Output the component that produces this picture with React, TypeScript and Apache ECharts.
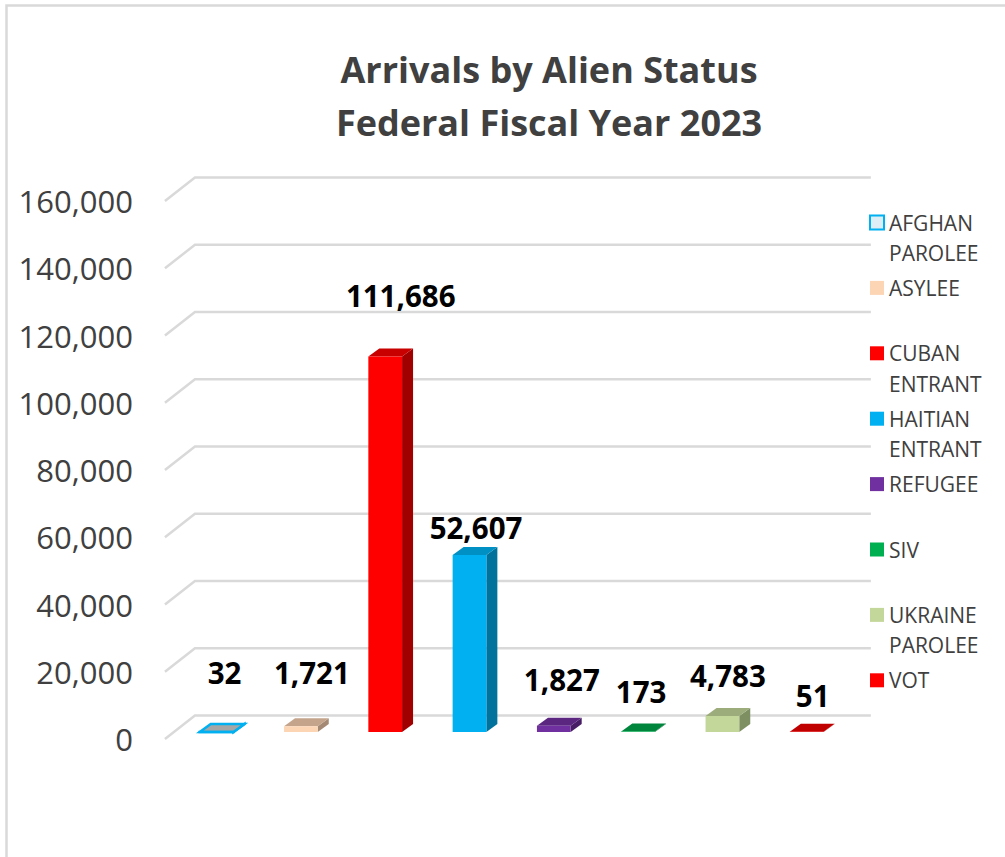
import React, { useEffect, useRef } from 'react';
import * as echarts from 'echarts';

// ---- data ----
const categories = [
  'AFGHAN PAROLEE',
  'ASYLEE',
  'CUBAN ENTRANT',
  'HAITIAN ENTRANT',
  'REFUGEE',
  'SIV',
  'UKRAINE PAROLEE',
  'VOT',
];
const arrivals = [32, 1721, 111686, 52607, 1827, 173, 4783, 51];
const yTicks = [0, 20000, 40000, 60000, 80000, 100000, 120000, 140000, 160000];
const titleLines = ['Arrivals by Alien Status', 'Federal Fiscal Year 2023'];

// ---- styles / layout ----
const FONT = "'Open Sans', 'Noto Sans', sans-serif";
const faceColors = [
  { front: '#dbeef4', top: '#a6a6a6', side: '#8c8c8c', stroke: '#00b0f0' },
  { front: '#fcd5b5', top: '#c4a58c', side: '#a48a75' },
  { front: '#ff0000', top: '#c80000', side: '#a00000' },
  { front: '#00b0f0', top: '#0090c4', side: '#00729c' },
  { front: '#7030a0', top: '#5a2680', side: '#471e66' },
  { front: '#00b050', top: '#00853c', side: '#006a30' },
  { front: '#c4d79b', top: '#9cad7b', side: '#7e8f62' },
  { front: '#ff0000', top: '#c00000', side: '#a00000' },
];
const legendIcon = [
  { color: '#ddeef6', borderColor: '#00b0f0', borderWidth: 2 },
  { color: '#fcd5b5' },
  { color: '#ff0000' },
  { color: '#00b0f0' },
  { color: '#7030a0' },
  { color: '#00b050' },
  { color: '#c4d79b' },
  { color: '#ff0000' },
];
// label offsets relative to the bar's top (dx, lift)
const labelNudge = [
  [8, 59.5], [11, 54], [15.5, 60.5], [6.5, 28], [8, 46], [3, 40], [5.5, 40], [6, 36],
];
const DX = 11;
const DY = -8;
const BAR_LIFT = 7;
const GRID_DX = 30;
const GRID_DY = -23.5;

const fmt = (v: number) => Number(v).toLocaleString('en-US');

function buildOption() {
  const gridSeries = {
    type: 'custom',
    name: '__grid',
    z: 1,
    silent: true,
    encode: { x: 0, y: 1 },
    data: yTicks.map((v) => [0, v]),
    renderItem: (params: any, api: any) => {
      const cs = params.coordSys;
      const p = api.coord([0, api.value(1)]);
      const x0 = cs.x - 9.5;
      const y = p[1];
      return {
        type: 'polyline',
        shape: {
          points: [
            [x0, y],
            [x0 + GRID_DX, y + GRID_DY],
            [cs.x + cs.width + 22, y + GRID_DY],
          ],
        },
        style: { stroke: '#d9d9d9', lineWidth: 2.5, fill: null },
      };
    },
  };

  const barSeries = categories.map((name, i) => ({
    type: 'custom',
    name,
    z: 2,
    itemStyle: { color: legendIcon[i].color },
    encode: { x: 0, y: 1 },
    data: [[i, arrivals[i]]],
    renderItem: (params: any, api: any) => {
      const idx = api.value(0);
      const v = api.value(1);
      const base = api.coord([idx, 0]);
      const top = api.coord([idx, v]);
      const w = api.size([1, 0])[0] * 0.4;
      const cx = base[0];
      const xL = cx - w / 2;
      const xR = cx + w / 2;
      const y0 = base[1] - BAR_LIFT;
      const yT = top[1] - BAR_LIFT;
      const c: any = faceColors[i];
      const stroke = c.stroke || 'none';
      const lw = c.stroke ? 2.5 : 0;
      return {
        type: 'group',
        children: [
          {
            type: 'polygon',
            shape: { points: [[xR, yT], [xR + DX, yT + DY], [xR + DX, y0 + DY], [xR, y0]] },
            style: { fill: c.side, stroke, lineWidth: lw },
          },
          {
            type: 'polygon',
            shape: { points: [[xL, yT], [xR, yT], [xR + DX, yT + DY], [xL + DX, yT + DY]] },
            style: { fill: c.top, stroke, lineWidth: lw },
          },
          {
            type: 'rect',
            shape: { x: xL, y: yT, width: w, height: Math.max(0, y0 - yT) },
            style: { fill: c.front, stroke, lineWidth: lw },
          },
          {
            type: 'text',
            x: cx + labelNudge[i][0],
            y: yT - labelNudge[i][1],
            style: {
              text: fmt(v),
              fontFamily: FONT,
              fontSize: 29.5,
              fontWeight: 'bold',
              fill: '#000000',
              align: 'center',
              verticalAlign: 'middle',
            },
          },
        ],
      };
    },
  }));

  return {
    animation: false,
    backgroundColor: '#ffffff',
    title: {
      text: titleLines.join('\n'),
      left: 549,
      top: 43,
      padding: 0,
      textAlign: 'center',
      textStyle: {
        fontFamily: FONT,
        fontSize: 36,
        fontWeight: 'bold',
        color: '#404040',
        lineHeight: 53,
      },
    },
    legend: {
      orient: 'vertical',
      left: 869,
      top: 176.75,
      padding: 0,
      itemWidth: 14,
      itemHeight: 14,
      itemGap: -26.1,
      icon: 'rect',
      selectedMode: false,
      textStyle: { fontFamily: FONT, fontSize: 21, color: '#404040', lineHeight: 30.5 },
      formatter: (name: string) => {
        const parts = name.split(' ');
        return '\n' + parts[0] + '\n' + (parts[1] || '');
      },
      data: categories.map((name, i) => ({ name, itemStyle: legendIcon[i] })),
    },
    grid: { left: 174.45, right: 156.15, top: 201, bottom: 118, containLabel: false },
    xAxis: {
      type: 'category',
      data: categories,
      boundaryGap: true,
      axisLine: { show: false },
      axisTick: { show: false },
      axisLabel: { show: false },
      splitLine: { show: false },
    },
    yAxis: {
      type: 'value',
      min: 0,
      max: 160000,
      interval: 20000,
      axisLine: { show: false },
      axisTick: { show: false },
      splitLine: { show: false },
      axisLabel: {
        margin: 41.5,
        fontFamily: FONT,
        fontSize: 31,
        color: '#404040',
        formatter: (v: number) => fmt(v),
      },
    },
    graphic: [
      {
        type: 'rect',
        silent: true,
        shape: { x: 6.5, y: 5.5, width: 1100, height: 1000 },
        style: { fill: 'none', stroke: '#d9d9d9', lineWidth: 2.5 },
        z: -10,
      },
    ],
    series: [gridSeries, ...barSeries],
  };
}

export default function App() {
  const ref = useRef<HTMLDivElement>(null);
  useEffect(() => {
    if (!ref.current) return;
    const chart = echarts.init(ref.current, null, { renderer: 'svg' });
    chart.setOption(buildOption() as any);
    return () => chart.dispose();
  }, []);
  return (
    <div
      ref={ref}
      style={{ position: 'absolute', left: 0, top: 0, width: 1005, height: 857, background: '#ffffff' }}
    />
  );
}
